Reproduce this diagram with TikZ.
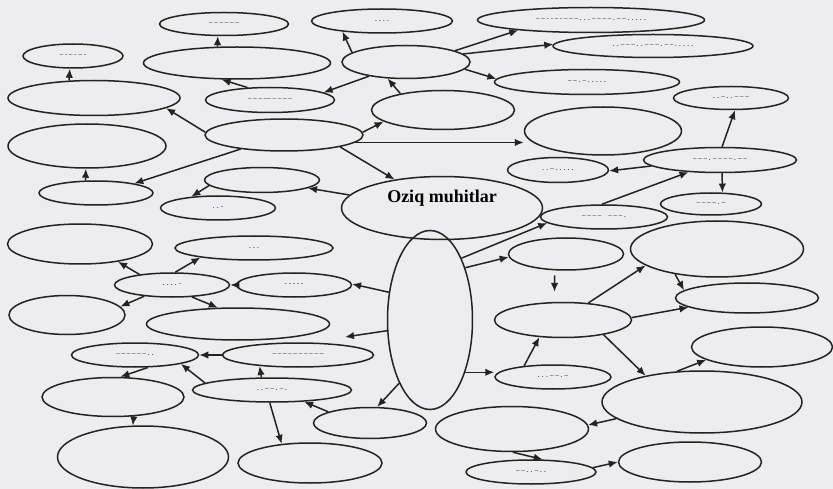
\documentclass[tikz,border=0pt]{standalone}
\usepackage{fontspec}
\setmainfont{Liberation Serif}
\usetikzlibrary{shapes.geometric,arrows.meta,calc}
\definecolor{bg}{RGB}{237,237,239}
\definecolor{lc}{RGB}{35,35,35}
\tikzset{
  el/.style 2 args={ellipse, draw=lc, line width=1.5pt, inner sep=0pt,
    minimum width=#1, minimum height=#2,
    font=\fontsize{7}{7}\selectfont\bfseries, text=lc!85},
  ar/.style={draw=lc, line width=1.5pt, -{Latex[length=9pt,width=7.5pt]}},
}
\begin{document}
\begin{tikzpicture}[x=1pt,y=-1pt]
\fill[bg] (0,0) rectangle (833,489);
\useasboundingbox (0,0) rectangle (833,489);
% nodes
\node[el={129pt}{23pt}] (e1) at (224,24) {-- -- -- -- -- --};
\node[el={141pt}{24pt}] (e2) at (382,21) {. . . .};
\node[el={100pt}{24pt}] (e3) at (73,56) {-- - -- - -- -};
\node[el={187pt}{32pt}] (e4) at (237,63) {};
\node[el={128pt}{33pt}] (e5) at (406,62) {};
\node[el={172pt}{35pt}] (e6) at (94,98) {};
\node[el={129pt}{25pt}] (e7) at (270,100) {-- -- -- --- -- -- -- --};
\node[el={143pt}{39pt}] (e8) at (443,110) {};
\node[el={158pt}{32pt}] (e9) at (284,135) {};
\node[el={158pt}{44pt}] (e10) at (87,146) {};
\node[el={227pt}{25pt}] (e11) at (591,20) {-- -- - - -- - -- -- -- . . . -- -- -- -- . -- -- . . . . .};
\node[el={200pt}{23pt}] (e12) at (653,46) {. . -- -- -- . . -- -- -- . -- -- . . . . .};
\node[el={185pt}{25pt}] (e13) at (587,82) {-- -- . -- . . . . .};
\node[el={115pt}{23pt}] (e14) at (731,98) {. . -- . . -- -- --};
\node[el={157pt}{48pt}] (e15) at (603,131) {};
\node[el={153pt}{25pt}] (e16) at (720,160) {-- -- -- . -- -- -- -- . -- --};
\node[el={114pt}{24pt}] (e17) at (96,193) {};
\node[el={115pt}{25pt}] (e18) at (262,180) {};
\node[el={115pt}{24pt}] (e19) at (218,208) {. . -};
\node[el={201pt}{63pt}, font=\fontsize{18}{18}\selectfont\bfseries, text=black] (oz) at (442,208) {\raisebox{5pt}[0pt][0pt]{Oziq muhitlar}};
\node[el={145pt}{40pt}] (e20) at (80,244) {};
\node[el={158pt}{24pt}] (e21) at (254,248) {. . .};
\node[el={115pt}{24pt}] (e22) at (172,285) {. . . . -};
\node[el={115pt}{24pt}] (e23) at (294,285) {- - - - -};
\node[el={116pt}{39pt}] (e24) at (67,315) {};
\node[el={183pt}{32pt}] (e25) at (238,324) {};
\node[el={85pt}{179pt}] (vv) at (430,320) {};
\node[el={101pt}{25pt}] (e26) at (558,170) {. . -- . . . . .};
\node[el={127pt}{24pt}] (e27) at (604,217) {-- -- -- --\quad -- -- -- .};
\node[el={101pt}{22pt}] (e28) at (711,204) {-- -- -- -- . --};
\node[el={115pt}{32pt}] (e29) at (566,254) {};
\node[el={173pt}{56pt}] (e30) at (717,249) {};
\node[el={137pt}{35pt}] (e31) at (563,320) {};
\node[el={143pt}{30pt}] (e32) at (747,298) {};
\node[el={141pt}{40pt}] (e33) at (762,347) {};
\node[el={116pt}{24pt}] (e34) at (553,377) {. . . -- -- . --};
\node[el={200pt}{62pt}] (e35) at (702,402) {};
\node[el={153pt}{45pt}] (e36) at (512,429) {};
\node[el={130pt}{24pt}] (e37) at (531,472) {-- -- . . -- . .};
\node[el={143pt}{40pt}] (e38) at (690,462) {};
\node[el={113pt}{31pt}] (e39) at (370,423) {};
\node[el={127pt}{24pt}] (e40) at (135,355) {-- -- -- -- -- -- . .};
\node[el={151pt}{24pt}] (e41) at (298,355) {-- -- -- -- -- -- -- -- -- --};
\node[el={142pt}{39pt}] (e42) at (113,397) {};
\node[el={159pt}{24pt}] (e43) at (272,390) {. . -- -- . -- .};
\node[el={171pt}{62pt}] (e44) at (143,457) {};
\node[el={144pt}{40pt}] (e45) at (310,463) {};
\coordinate (fr) at (345,337);
% connectors
\draw[ar] (e6.145) -- (e3.-104);
\draw[ar] (e4.140) -- (e1.-117);
\draw[ar] (e7.151) -- (e4.-133);
\draw[ar] (e5.170) -- (e2.-165);
\draw[ar] (e5.-159) -- (e7.8);
\draw[ar] (e8.159) -- (e5.-138);
\draw[ar] (e9.178) -- (e6.-8);
\draw[ar] (e9.2) -- (e8.191);
\draw[ar] (e9.-6) -- (e9.-6 -| e15.west);
\draw[ar] (e9.-12) -- (oz.149);
\draw[ar] (e9.198) -- (e17.14);
\draw[ar] (e17.130) -- (e10.-93);
\draw[ar] (e5.13) -- (e11.188);
\draw[ar] (e5.8) -- (e12.179);
\draw[ar] (e5.-7) -- (e13.178);
\draw[ar] (e16.81) -- (e14.-72);
\draw[ar] (e16.185) -- (e26.-1);
\draw[ar] (oz.172) -- (e18.-10);
\draw[ar] (e18.186) -- (e19.157);
\draw[ar] (e22.162) -- (e20.-25);
\draw[ar] (e22.76) -- (e21.190);
\draw[ar] (e23.west) -- (e22.east);
\draw[ar] (vv.146) -- (e23.1);
\draw[ar] (e22.202) -- (e24.9);
\draw[ar] (e22.-31) -- (e25.141);
\draw[ar] (vv.63) -- (e27.186);
\draw[ar] (vv.56) -- (e29.183);
\draw[ar] (e27.100) -- (e16.201);
\draw[ar] (e16.-81) -- (e28.45);
\draw[ar, shorten <=5pt, shorten >=10pt] (e29.-125) -- (e31.115);
\draw[ar] (e31.34) -- (e30.193);
\draw[ar] (e30.211) -- (e32.173);
\draw[ar] (e31.2) -- (e32.189);
\draw[ar] (vv.194) -- (fr);
\draw[ar] (e41.west) -- (e40.east);
\draw[ar] (e40.-44) -- (e42.70);
\draw[ar] (e43.174) -- (e40.-11);
\draw[ar] (e43.130) -- (e41.196);
\draw[ar] (e42.-43) -- (e44.108);
\draw[ar] (e43.-100) -- (e45.146);
\draw[ar] (e39.165) -- (e43.-20);
\draw[ar] (vv.244) -- (e39.66);
\draw[ar] (vv.-56) -- (vv.-56 -| e34.west);
\draw[ar] (e34.159) -- (e31.-144);
\draw[ar] (e31.-20) -- (e35.155);
\draw[ar] (e35.129) -- (e33.193);
\draw[ar] (e35.191) -- (e36.3);
\draw[ar] (e36.-88) -- (e37.47);
\draw[ar] (e37.4) -- (e38.180);
\end{tikzpicture}
\end{document}
